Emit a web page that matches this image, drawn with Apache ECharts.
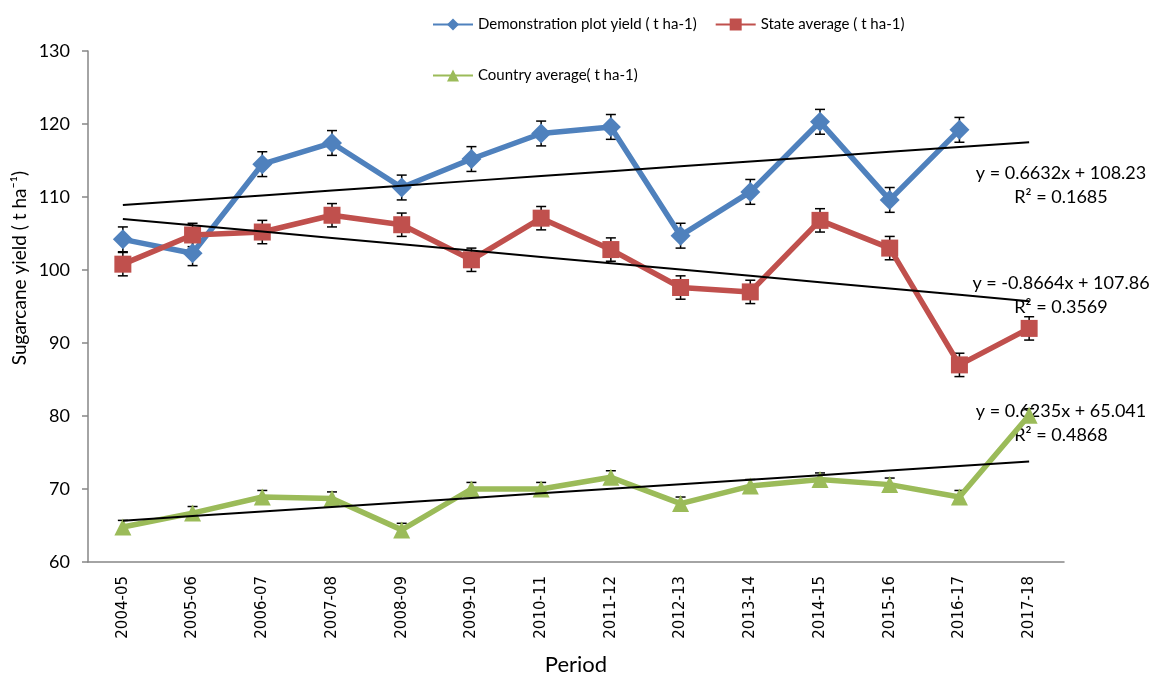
<!DOCTYPE html>
<html>
<head>
<meta charset="utf-8">
<title>Sugarcane yield</title>
<script src="https://cdn.jsdelivr.net/npm/echarts@6/dist/echarts.min.js"></script>
<style>
  html, body { margin: 0; padding: 0; background: #ffffff; }
  #chart { width: 1151px; height: 675px; }
</style>
</head>
<body>
<div id="chart"></div>
<script>
// Crop seasons on the category axis
const periods = ['2004-05', '2005-06', '2006-07', '2007-08', '2008-09', '2009-10', '2010-11',
  '2011-12', '2012-13', '2013-14', '2014-15', '2015-16', '2016-17', '2017-18'];

// Yields (t ha-1); demonstration plots have no 2017-18 value
const demoYield = [104.2, 102.3, 114.5, 117.4, 111.3, 115.2, 118.7, 119.6, 104.7, 110.7, 120.3, 109.6, 119.2, null];
const stateYield = [100.8, 104.8, 105.2, 107.5, 106.2, 101.4, 107.1, 102.8, 97.6, 97.0, 106.8, 103.0, 87.0, 92.0];
const countryYield = [64.8, 66.7, 68.9, 68.7, 64.4, 70.0, 70.0, 71.6, 68.0, 70.4, 71.3, 70.6, 68.9, 80.1];

// Error bar half-widths
const demoErr = [1.7, 1.7, 1.7, 1.7, 1.7, 1.7, 1.7, 1.7, 1.7, 1.7, 1.7, 1.7, 1.7, null];
const stateErr = [1.6, 1.6, 1.6, 1.6, 1.6, 1.6, 1.6, 1.6, 1.6, 1.6, 1.6, 1.6, 1.6, 1.6];
const countryErr = [0.9, 0.9, 0.9, 0.9, 0.9, 0.9, 0.9, 0.9, 0.9, 0.9, 0.9, 0.9, 0.9, 0.9];

// Linear trend fits: y = slope * x + intercept, x = 1..14
const trendSlope = [0.6632, -0.8664, 0.6235];
const trendIntercept = [108.23, 107.86, 65.041];
const trendR2 = ['0.1685', '0.3569', '0.4868'];
const trendEqText = ['y = 0.6632x + 108.23', 'y = -0.8664x + 107.86', 'y = 0.6235x + 65.041'];

// Y axis tick range
const yTicks = [60, 70, 80, 90, 100, 110, 120, 130];

const seriesNames = ['Demonstration plot yield ( t ha-1)', 'State average ( t ha-1)', 'Country average( t ha-1)'];
const colors = ['#4F81BD', '#C0504D', '#9BBB59'];
const font = 'Lato, "Noto Sans", sans-serif';

function trendData(k) {
  return periods.map((_, i) => +(trendSlope[k] * (i + 1) + trendIntercept[k]).toFixed(4));
}

function errData(values, errs) {
  return values.map((v, i) => (v == null || errs[i] == null) ? [i, null, null] : [i, v - errs[i], v + errs[i]]);
}

function errorBarSeries(values, errs, capHalf) {
  return {
    type: 'custom',
    silent: true,
    z: 1,
    data: errData(values, errs),
    renderItem: function (params, api) {
      const lo = api.value(1), hi = api.value(2);
      if (lo == null || isNaN(lo)) return null;
      const x = api.value(0);
      const pLo = api.coord([x, lo]);
      const pHi = api.coord([x, hi]);
      const style = { stroke: '#000000', lineWidth: 1.5 };
      return {
        type: 'group',
        children: [
          { type: 'line', shape: { x1: pLo[0], y1: pLo[1], x2: pHi[0], y2: pHi[1] }, style: style },
          { type: 'line', shape: { x1: pHi[0] - capHalf, y1: pHi[1], x2: pHi[0] + capHalf, y2: pHi[1] }, style: style },
          { type: 'line', shape: { x1: pLo[0] - capHalf, y1: pLo[1], x2: pLo[0] + capHalf, y2: pLo[1] }, style: style }
        ]
      };
    }
  };
}

function dataSeries(k, values, symbol, size) {
  return {
    name: seriesNames[k],
    type: 'line',
    data: values,
    z: 2,
    symbol: symbol,
    symbolSize: size,
    showAllSymbol: true,
    connectNulls: false,
    lineStyle: { color: colors[k], width: 5.5 },
    itemStyle: { color: colors[k], borderWidth: 0 },
    emphasis: { disabled: true }
  };
}

function trendSeries(k) {
  return {
    type: 'line',
    data: trendData(k),
    z: 3,
    symbol: 'none',
    silent: true,
    lineStyle: { color: '#000000', width: 2 },
    emphasis: { disabled: true }
  };
}

// Equation labels for the trend lines, plus the rotated y-axis title
const eqMid = [173, 283, 411];
const labelGraphics = [];
for (let k = 0; k < 3; k++) {
  labelGraphics.push({
    type: 'text', x: 1061, y: eqMid[k],
    style: { text: trendEqText[k], font: '18px ' + font, fill: '#000000', textAlign: 'center', textVerticalAlign: 'middle' }
  });
  labelGraphics.push({
    type: 'text', x: 1061, y: eqMid[k] + 24,
    style: { text: 'R\u00B2 = ' + trendR2[k], font: '18px ' + font, fill: '#000000', textAlign: 'center', textVerticalAlign: 'middle' }
  });
}
labelGraphics.push({
  type: 'text', x: 20, y: 268, rotation: Math.PI / 2,
  style: { text: 'Sugarcane yield ( t ha\u207B\u00B9)', font: '19px ' + font, fill: '#000000', textAlign: 'center', textVerticalAlign: 'middle' }
});

const chart = echarts.init(document.getElementById('chart'), null, { renderer: 'canvas' });

const legendText = { fontFamily: font, fontSize: 15, color: '#000000' };

chart.setOption({
  animation: false,
  backgroundColor: '#ffffff',
  grid: { left: 88, right: 87, top: 51, bottom: 113, containLabel: false, outerBoundsMode: 'none' },
  legend: [
    {
      data: [seriesNames[0], seriesNames[1]],
      left: 427, top: 12,
      itemWidth: 40, itemHeight: 15, itemGap: 18,
      textStyle: legendText,
      selectedMode: false
    },
    {
      data: [seriesNames[2]],
      left: 427, top: 63,
      itemWidth: 40, itemHeight: 15,
      textStyle: legendText,
      selectedMode: false
    }
  ],
  xAxis: {
    type: 'category',
    data: periods,
    boundaryGap: true,
    name: 'Period',
    nameLocation: 'middle',
    nameGap: 92,
    nameTextStyle: { fontFamily: font, fontSize: 22, color: '#000000' },
    axisLine: { lineStyle: { color: '#868686', width: 1.5 } },
    axisTick: { show: false },
    axisLabel: { rotate: 90, interval: 0, margin: 14, fontFamily: '"DejaVu Sans", sans-serif', fontSize: 15, color: '#000000' },
    splitLine: { show: false }
  },
  yAxis: {
    type: 'value',
    min: yTicks[0],
    max: yTicks[yTicks.length - 1],
    interval: 10,
    axisLine: { show: true, lineStyle: { color: '#868686', width: 1.5 } },
    axisTick: { show: true, inside: false, length: 6, lineStyle: { color: '#868686', width: 1.5 } },
    axisLabel: { margin: 18, fontFamily: font, fontSize: 18, color: '#000000' },
    splitLine: { show: false }
  },
  series: [
    errorBarSeries(demoYield, demoErr, 5),
    errorBarSeries(stateYield, stateErr, 5),
    errorBarSeries(countryYield, countryErr, 5),
    dataSeries(0, demoYield, 'diamond', 20),
    dataSeries(1, stateYield, 'rect', 17),
    dataSeries(2, countryYield, 'triangle', 17),
    trendSeries(0),
    trendSeries(1),
    trendSeries(2)
  ],
  graphic: labelGraphics
});
</script>
</body>
</html>
